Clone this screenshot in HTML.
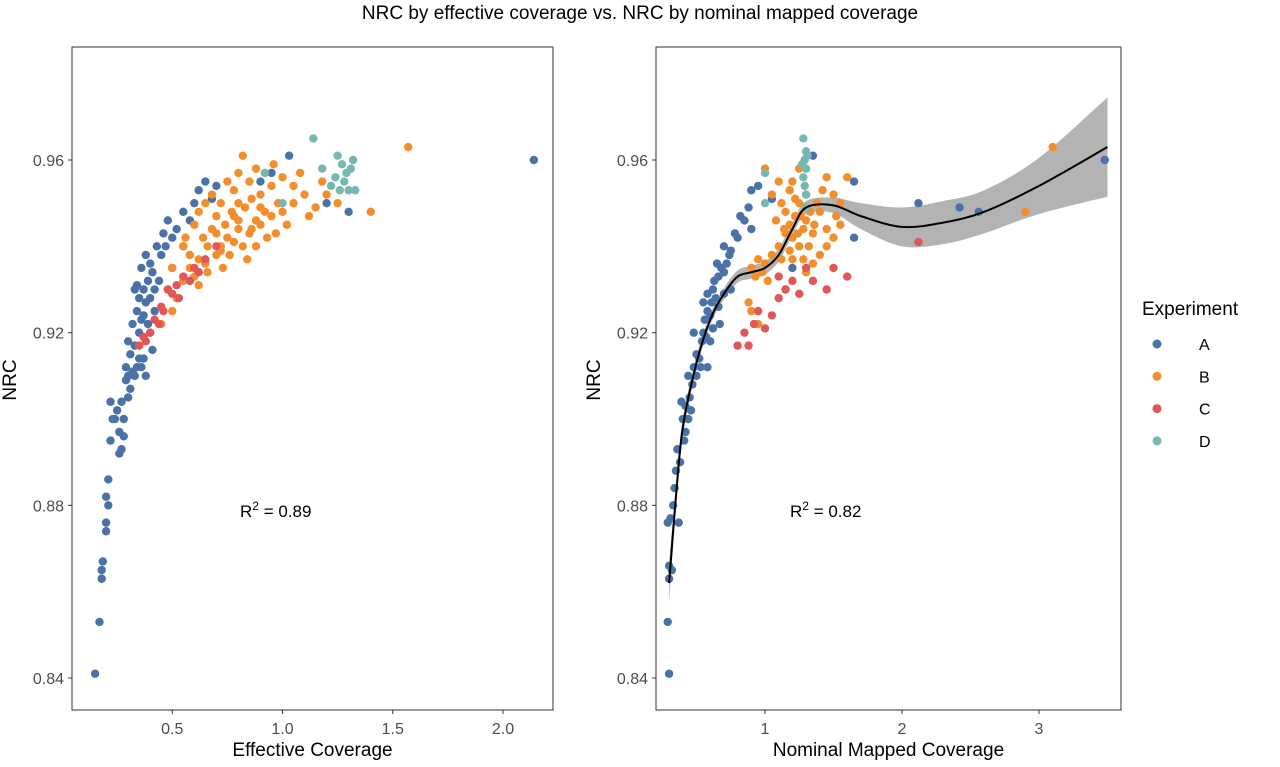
<!DOCTYPE html>
<html><head><meta charset="utf-8">
<style>
body{margin:0;background:#fff;font-family:"Liberation Sans",Arial,sans-serif;}
svg text{font-family:"Liberation Sans",Arial,sans-serif;}
</style></head>
<body>
<svg id="chart" width="1280" height="762" viewBox="0 0 1280 762">
<text x="640" y="19" text-anchor="middle" font-size="19" fill="#000">NRC by effective coverage vs. NRC by nominal mapped coverage</text>
<g id="left"></g>
<g id="right"></g>
<g id="legend"></g>
</svg>
<script>
const yTicks=[0.84,0.88,0.92,0.96];
const leftXTicks=[0.5,1.0,1.5,2.0];
const rightXTicks=[1,2,3];
const groups=['A','B','C','D'];
const colors={A:'#4a72a6',B:'#f28e2b',C:'#e15759',D:'#76b7b2'};

const leftA=[[0.15,0.841],[0.17,0.853],[0.18,0.863],[0.18,0.865],[0.185,0.867],[0.2,0.874],[0.2,0.876],[0.21,0.88],[0.2,0.882],[0.21,0.886],[0.22,0.895],[0.23,0.9],[0.22,0.904],[0.25,0.902],[0.26,0.892],[0.27,0.893],[0.26,0.897],[0.28,0.9],[0.27,0.904],[0.3,0.905],[0.29,0.909],[0.3,0.91],[0.32,0.911],[0.33,0.91],[0.34,0.912],[0.36,0.912],[0.37,0.914],[0.3,0.918],[0.33,0.917],[0.35,0.92],[0.32,0.922],[0.34,0.925],[0.36,0.923],[0.38,0.927],[0.37,0.93],[0.33,0.93],[0.35,0.928],[0.4,0.928],[0.39,0.932],[0.42,0.93],[0.36,0.935],[0.38,0.938],[0.4,0.936],[0.43,0.94],[0.45,0.938],[0.47,0.94],[0.5,0.942],[0.52,0.944],[0.48,0.946],[0.55,0.948],[0.6,0.95],[0.62,0.953],[0.65,0.955],[0.7,0.954],[1.03,0.961],[0.95,0.957],[1.2,0.95],[1.3,0.948],[2.14,0.96],[0.42,0.925],[0.44,0.932],[0.5,0.935],[0.55,0.94],[0.4,0.92],[0.41,0.916],[0.35,0.914],[0.31,0.915],[0.29,0.912],[0.37,0.924],[0.39,0.922],[0.34,0.931],[0.41,0.934],[0.46,0.943],[0.28,0.896],[0.24,0.9],[0.31,0.907],[0.38,0.91],[0.58,0.946],[0.68,0.951],[0.9,0.955]];
const leftB=[[0.45,0.922],[0.5,0.925],[0.48,0.93],[0.52,0.928],[0.55,0.932],[0.58,0.935],[0.6,0.933],[0.62,0.937],[0.65,0.936],[0.66,0.94],[0.7,0.938],[0.72,0.94],[0.75,0.942],[0.78,0.941],[0.8,0.944],[0.82,0.94],[0.85,0.943],[0.88,0.946],[0.9,0.945],[0.92,0.948],[0.95,0.947],[0.98,0.95],[1.0,0.948],[1.05,0.95],[1.1,0.952],[1.15,0.949],[1.2,0.952],[1.25,0.95],[1.4,0.948],[1.57,0.963],[0.55,0.94],[0.6,0.945],[0.62,0.948],[0.65,0.95],[0.68,0.952],[0.7,0.947],[0.72,0.95],[0.75,0.955],[0.78,0.953],[0.8,0.957],[0.82,0.961],[0.85,0.955],[0.88,0.958],[0.9,0.952],[0.92,0.957],[0.95,0.954],[1.0,0.956],[1.05,0.954],[1.08,0.957],[0.7,0.943],[0.74,0.945],[0.77,0.948],[0.8,0.95],[0.83,0.949],[0.86,0.951],[0.64,0.942],[0.58,0.938],[0.68,0.944],[0.73,0.935],[0.76,0.938],[0.84,0.937],[0.88,0.94],[0.93,0.942],[0.97,0.943],[1.02,0.945],[0.5,0.935],[0.56,0.942],[0.62,0.931],[0.66,0.934],[0.8,0.946],[0.9,0.949],[1.12,0.947],[1.18,0.955],[0.96,0.959],[0.78,0.947],[0.72,0.939],[0.86,0.944]];
const leftC=[[0.35,0.917],[0.37,0.919],[0.4,0.92],[0.42,0.923],[0.44,0.922],[0.45,0.926],[0.48,0.93],[0.5,0.929],[0.52,0.931],[0.55,0.933],[0.58,0.932],[0.6,0.935],[0.62,0.934],[0.65,0.937],[0.7,0.94],[0.38,0.918],[0.46,0.925],[0.53,0.928]];
const leftD=[[1.14,0.965],[1.18,0.958],[1.22,0.954],[1.25,0.961],[1.27,0.959],[1.28,0.955],[1.3,0.953],[1.32,0.96],[1.26,0.953],[1.29,0.957],[1.33,0.953],[1.0,0.95],[0.92,0.957],[1.24,0.956],[1.31,0.958]];

const rightA=[[0.3,0.841],[0.29,0.853],[0.3,0.863],[0.3,0.866],[0.32,0.865],[0.29,0.876],[0.31,0.877],[0.33,0.88],[0.34,0.884],[0.35,0.888],[0.37,0.876],[0.36,0.893],[0.38,0.89],[0.4,0.9],[0.42,0.897],[0.39,0.904],[0.45,0.905],[0.44,0.91],[0.47,0.908],[0.5,0.91],[0.48,0.912],[0.5,0.915],[0.52,0.914],[0.54,0.918],[0.55,0.92],[0.57,0.919],[0.56,0.923],[0.58,0.925],[0.6,0.924],[0.61,0.927],[0.58,0.929],[0.62,0.93],[0.64,0.928],[0.63,0.932],[0.66,0.933],[0.65,0.936],[0.68,0.935],[0.7,0.934],[0.72,0.936],[0.7,0.94],[0.75,0.939],[0.78,0.943],[0.8,0.942],[0.82,0.947],[0.85,0.946],[0.88,0.949],[0.9,0.953],[0.95,0.954],[1.05,0.951],[1.35,0.961],[1.65,0.955],[1.65,0.942],[2.12,0.95],[2.42,0.949],[2.56,0.948],[3.48,0.96],[0.53,0.912],[0.6,0.918],[0.66,0.926],[0.62,0.921],[0.46,0.902],[0.42,0.903],[0.55,0.927],[0.74,0.938],[0.48,0.92],[0.58,0.912],[0.7,0.929],[0.75,0.93],[0.67,0.922],[0.41,0.895],[0.44,0.9],[1.2,0.935],[0.9,0.944]];
const rightB=[[1.0,0.958],[1.05,0.952],[1.1,0.955],[1.12,0.95],[1.15,0.948],[1.18,0.945],[1.2,0.942],[1.22,0.947],[1.25,0.95],[1.28,0.944],[1.3,0.946],[1.32,0.94],[1.35,0.943],[1.38,0.95],[1.4,0.948],[1.42,0.953],[1.45,0.956],[1.5,0.952],[1.55,0.95],[1.6,0.956],[1.1,0.94],[1.12,0.937],[1.15,0.943],[1.18,0.939],[1.2,0.937],[1.25,0.94],[1.28,0.937],[1.3,0.934],[1.35,0.936],[1.4,0.938],[1.45,0.94],[1.5,0.942],[1.55,0.945],[0.9,0.935],[0.93,0.933],[0.95,0.937],[0.98,0.934],[1.0,0.936],[1.02,0.932],[1.05,0.938],[0.88,0.927],[0.9,0.925],[0.95,0.922],[1.15,0.93],[1.2,0.955],[1.25,0.958],[1.3,0.952],[1.22,0.951],[1.18,0.953],[1.26,0.947],[1.33,0.948],[1.36,0.945],[1.24,0.943],[1.14,0.944],[3.1,0.963],[2.9,0.948],[1.08,0.946],[1.45,0.944],[1.52,0.947]];
const rightC=[[0.8,0.917],[0.85,0.92],[0.88,0.917],[0.92,0.922],[0.95,0.925],[1.0,0.921],[1.05,0.924],[1.1,0.928],[1.15,0.93],[1.2,0.932],[1.25,0.929],[1.1,0.933],[1.3,0.935],[1.45,0.93],[1.5,0.935],[1.6,0.933],[1.35,0.932],[2.12,0.941]];
const rightD=[[1.28,0.965],[1.3,0.962],[1.29,0.96],[1.3,0.958],[1.28,0.956],[1.29,0.954],[1.3,0.952],[1.3,0.949],[1.0,0.957],[1.0,0.95],[1.31,0.961],[1.27,0.959]];
const smoothX=[0.3,0.35,0.4,0.5,0.6,0.7,0.8,0.9,1.0,1.1,1.2,1.3,1.5,1.7,2.0,2.3,2.6,3.0,3.5];
const smoothY=[0.862,0.882,0.898,0.913,0.923,0.929,0.933,0.934,0.935,0.938,0.944,0.949,0.9495,0.947,0.9445,0.9455,0.948,0.954,0.963];
const smoothSE=[0.0045,0.003,0.0022,0.0015,0.0013,0.0013,0.0014,0.0015,0.0015,0.0015,0.0014,0.0015,0.0018,0.003,0.0045,0.005,0.005,0.0065,0.0115];

const NS='http://www.w3.org/2000/svg';
function mk(t,a,p){const e=document.createElementNS(NS,t);for(const k in a)e.setAttribute(k,a[k]);p.appendChild(e);return e;}
const yS=v=>160+(0.96-v)*4317;
function crPath(pts,move){
  let d=(move?'M':'L')+pts[0][0]+','+pts[0][1];
  for(let i=0;i<pts.length-1;i++){
    const p0=pts[Math.max(0,i-1)],p1=pts[i],p2=pts[i+1],p3=pts[Math.min(pts.length-1,i+2)];
    const c1=[p1[0]+(p2[0]-p0[0])/6,p1[1]+(p2[1]-p0[1])/6];
    const c2=[p2[0]-(p3[0]-p1[0])/6,p2[1]-(p3[1]-p1[1])/6];
    d+='C'+c1[0]+','+c1[1]+' '+c2[0]+','+c2[1]+' '+p2[0]+','+p2[1];
  }
  return d;
}

function panel(g,box,xS,xt,fmt,title,series,r2x,pfx){
  mk('rect',{x:box[0],y:box[1],width:box[2]-box[0],height:box[3]-box[1],fill:'none',stroke:'#333','stroke-width':1},g);
  yTicks.forEach(t=>{
    const y=yS(t);
    const l=mk('line',{x1:box[0]-4,x2:box[0],y1:y,y2:y,stroke:'#333'},g);
    
    
    const tx=mk('text',{x:box[0]-8,y:y+6,'text-anchor':'end','font-size':16,fill:'#4d4d4d'},g);
    tx.textContent=t.toFixed(2);
    
    
  });
  xt.forEach(t=>{
    const x=xS(t);
    const l=mk('line',{x1:x,x2:x,y1:box[3],y2:box[3]+4,stroke:'#333'},g);
    
    
    const tx=mk('text',{x:x,y:box[3]+24,'text-anchor':'middle','font-size':16,fill:'#4d4d4d'},g);
    tx.textContent=fmt(t);
    
    
  });
  const xt2=mk('text',{x:(box[0]+box[2])/2,y:756,'text-anchor':'middle','font-size':19,fill:'#000'},g);
  xt2.textContent=title;
  
  
  const yt=mk('text',{x:0,y:0,'text-anchor':'middle','font-size':19,fill:'#000',transform:`translate(${box[0]-56},380) rotate(-90)`},g);
  yt.textContent='NRC';
  
  
  if(pfx==='right'){
    const upPts=smoothX.map((x,i)=>[xS(x),yS(smoothY[i]+smoothSE[i])]);
    const loPts=smoothX.map((x,i)=>[xS(x),yS(smoothY[i]-smoothSE[i])]).reverse();
    const band=mk('path',{d:crPath(upPts,true)+crPath(loPts,false)+'Z',fill:'#999','fill-opacity':0.75},g);
    
    
  }
  series.forEach(([k,pts])=>{
    pts.forEach(p=>{
      const c=mk('circle',{cx:xS(p[0]),cy:yS(p[1]),r:4.2,fill:colors[k]},g);
      
      
    });
  });
  if(pfx==='right'){
    const pts=smoothX.map((x,i)=>[xS(x),yS(smoothY[i])]);
    const ln=mk('path',{d:crPath(pts,true),fill:'none',stroke:'#000','stroke-width':2},g);
    
    
  }
  const r=mk('text',{x:r2x,y:517,'font-size':17,fill:'#000'},g);
  r.innerHTML='R<tspan dy="-7" font-size="12">2</tspan><tspan dy="7"> = '+(pfx==='left'?'0.89':'0.82')+'</tspan>';
  
  
}
panel(document.getElementById('left'),[72,47,553,710],v=>62+v*220.5,leftXTicks,v=>v.toFixed(1),'Effective Coverage',[['A',leftA],['B',leftB],['C',leftC],['D',leftD]],240,'left');
panel(document.getElementById('right'),[656,47,1121,710],v=>628+v*137,rightXTicks,v=>String(v),'Nominal Mapped Coverage',[['A',rightA],['B',rightB],['C',rightC],['D',rightD]],790,'right');

const lg=document.getElementById('legend');
const lt=mk('text',{x:1142,y:315,'font-size':19,fill:'#000'},lg);
lt.textContent='Experiment';


groups.forEach((k,i)=>{
  const y=344+i*32.3;
  const c=mk('circle',{cx:1157,cy:y,r:4.5,fill:colors[k]},lg);
  
  
  const t=mk('text',{x:1199,y:y+6,'font-size':16,fill:'#000'},lg);
  t.textContent=k;
  
  
});
</script>
</body></html>
